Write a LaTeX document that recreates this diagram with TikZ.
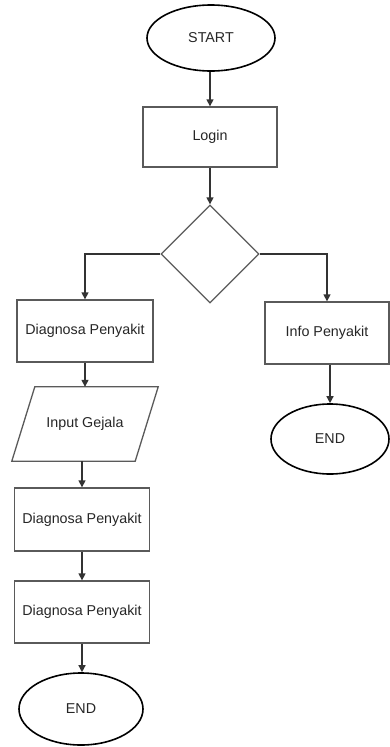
\documentclass[tikz,border=0pt]{standalone}
\usepackage{fontspec}
\setmainfont{Liberation Sans}
\usetikzlibrary{shapes.geometric,arrows.meta}
\definecolor{boxline}{HTML}{5A5A5A}
\definecolor{arrline}{HTML}{333333}
\tikzset{
  base/.style={inner sep=0pt, font=\fontsize{14.3}{16}\selectfont, text=black!85},
  term/.style={base, ellipse, draw=black, line width=1.6pt, fill=white},
  proc/.style={base, rectangle, draw=boxline, line width=1.3pt, fill=white},
  dec/.style={base, diamond, draw=boxline, line width=1.3pt, fill=white, aspect=1},
  iobox/.style={base, rectangle, draw=none},
  arr/.style={draw=arrline, line width=1.3pt, -{Triangle[width=7pt,length=7pt]}}
}
\begin{document}
\begin{tikzpicture}[x=1pt,y=-1pt]
\useasboundingbox (0,0) rectangle (390,747);
% nodes
\node[term, minimum width=128, minimum height=66] (start) at (211,38) {START};
\node[proc, minimum width=134, minimum height=60] (login) at (210,137) {Login};
\node[dec, minimum width=98, minimum height=98] (dia) at (210,254) {};
\node[proc, minimum width=136, minimum height=62] (d1) at (85,331) {Diagnosa Penyakit};
\node[iobox, minimum width=146, minimum height=74] (inp) at (85,424) {Input Gejala};
\draw[boxline, line width=1.3pt, line join=miter]
  ([xshift=23pt]inp.north west) -- (inp.north east) -- ([xshift=-23pt]inp.south east) -- (inp.south west) -- cycle;
\node[proc, minimum width=135, minimum height=63] (d2) at (82,519.5) {Diagnosa Penyakit};
\node[proc, minimum width=135, minimum height=62] (d3) at (82,612) {Diagnosa Penyakit};
\node[term, minimum width=124, minimum height=72] (end1) at (81,709) {END};
\node[proc, minimum width=124, minimum height=62] (info) at (327,333) {Info Penyakit};
\node[term, minimum width=118, minimum height=70] (end2) at (330,439) {END};
% connectors
\draw[arr] (start.south -| login.north) -- (login.north);
\draw[arr] (login.south) -- (dia.north);
\draw[arr] (dia.west) -| (d1.north);
\draw[arr] (dia.east) -| (info.north);
\draw[arr] (d1.south) -- (d1.south |- inp.north);
\draw[arr] (inp.south -| d2.north) -- (d2.north);
\draw[arr] (d2.south) -- (d3.north);
\draw[arr] (d3.south -| d3.south) -- (d3.south |- end1.north);
\draw[arr] (info.south -| end2.north) -- (end2.north);
\end{tikzpicture}
\end{document}
